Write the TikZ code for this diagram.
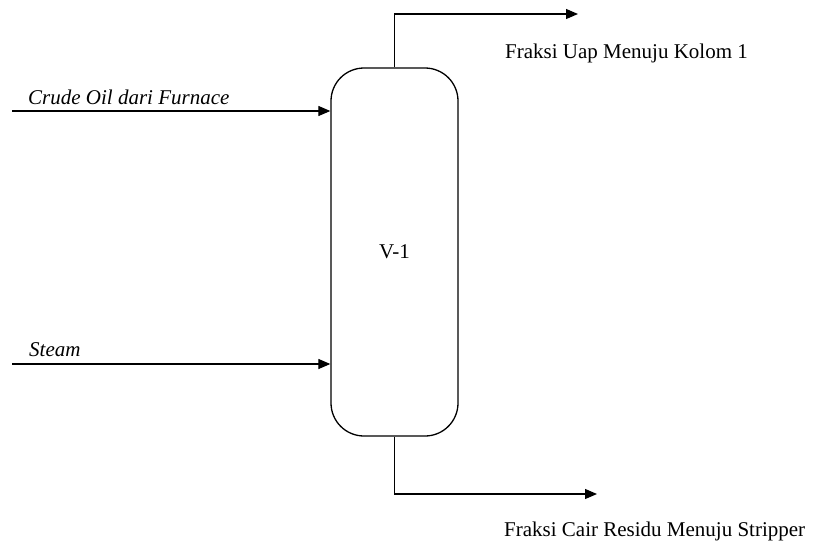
\documentclass[tikz,border=0pt]{standalone}
\usepackage{fontspec}
\setmainfont{Liberation Serif}
\usetikzlibrary{arrows.meta}
\begin{document}
\begin{tikzpicture}[x=1pt,y=-1pt,
  line/.style={line width=1.2pt},
  flow/.style={line, -{Triangle[length=12pt,width=10pt]}},
  lbl/.style={anchor=west, inner sep=0pt, font=\fontsize{21}{25}\selectfont},
  vessel/.style={draw, line width=1.3pt, rounded corners=33pt, minimum width=127pt, minimum height=368pt, inner sep=0pt, font=\fontsize{21}{25}\selectfont}]
\useasboundingbox (0,0) rectangle (817,547);
\node[vessel] (v) at (394.5,252) {V-1};
\coordinate (in1) at (12,111);
\coordinate (in2) at (12,364);
\coordinate (out1) at (578,14);
\coordinate (out2) at (597,494);
\draw[flow] (in1) -- (v.west |- in1);
\draw[flow] (in2) -- (v.west |- in2);
\draw[flow] (v.north) |- (out1);
\draw[flow] (v.south) |- (out2);
\node[lbl] (t1) at (28,97) {\itshape Crude Oil dari Furnace};
\node[lbl] (t2) at (29,350) {\itshape Steam};
\node[lbl] (t3) at (505,53) {Fraksi Uap Menuju Kolom 1};
\node[lbl] (t4) at (504,531) {Fraksi Cair Residu Menuju Stripper};
\end{tikzpicture}
\end{document}
